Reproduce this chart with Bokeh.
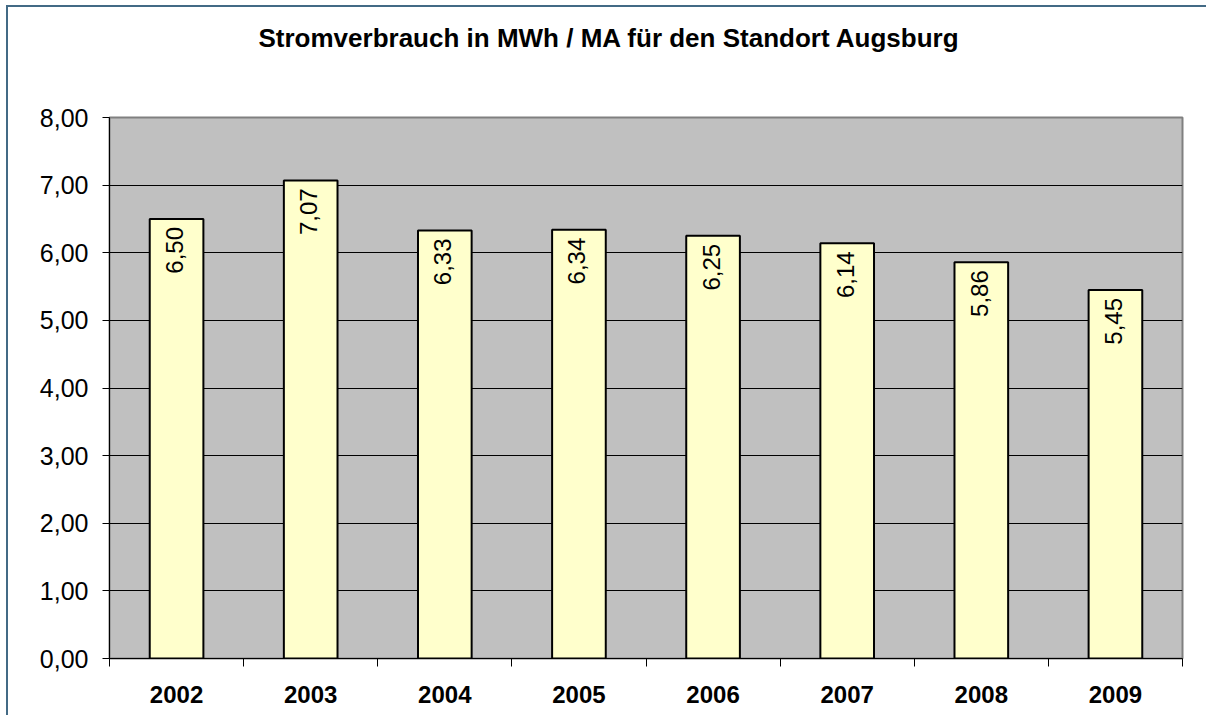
import math
from bokeh.plotting import figure
from bokeh.models import Range1d, FixedTicker, ColumnDataSource
from bokeh.core.properties import value
from bokeh.embed import file_html
from bokeh.resources import INLINE

title_text = "Stromverbrauch in MWh / MA für den Standort Augsburg"
years = ["2002", "2003", "2004", "2005", "2006", "2007", "2008", "2009"]
values = [6.50, 7.07, 6.33, 6.34, 6.25, 6.14, 5.86, 5.45]
y_ticks = [0, 1, 2, 3, 4, 5, 6, 7, 8]

FONT = "Liberation Sans"
BORDER = "#436a85"

xs = [i + 0.5 for i in range(len(years))]
labels = [f"{v:.2f}".replace(".", ",") for v in values]
src = ColumnDataSource(dict(x=xs, top=values, label=labels))

p = figure(width=1206, height=715, output_backend="svg", toolbar_location=None,
           x_range=Range1d(0, len(years)), y_range=Range1d(0, 8),
           min_border_left=109, min_border_right=24, min_border_top=117, min_border_bottom=57)

p.styles = {
    "background": (f"linear-gradient({BORDER},{BORDER}) 6px 5px / 2px 100% no-repeat, "
                   f"linear-gradient({BORDER},{BORDER}) 6px 5px / 100% 2px no-repeat, white"),
}
p.background_fill_color = "#c0c0c0"
p.border_fill_alpha = 0
p.outline_line_color = "#808080"
p.outline_line_width = 2

p.title.text = title_text
p.title.text_font = FONT
p.title.text_font_size = "26px"
p.title.text_font_style = "bold"
p.title.text_color = "black"
p.title.align = "left"
p.title.vertical_align = "top"
p.title.offset = 149
p.title.standoff = 0
p.title.padding = dict(left=0, right=0, top=0, bottom=63)

p.xgrid.grid_line_color = None
p.ygrid.grid_line_color = "black"
p.ygrid.grid_line_width = 1
p.ygrid.ticker = FixedTicker(ticks=y_ticks)

p.vbar(x="x", top="top", width=0.4, source=src, fill_color="#ffffcc",
       line_color="black", line_width=2)

p.text(x="x", y="top", text="label", source=src, angle=math.pi / 2,
       text_align="right", text_baseline="middle", y_offset=8, x_offset=-2,
       text_font=value(FONT), text_font_size="24px", text_color="black")

xa = p.xaxis[0]
xa.ticker = FixedTicker(ticks=xs, minor_ticks=list(range(len(years) + 1)))
xa.major_label_overrides = {x: y for x, y in zip(xs, years)}
xa.major_tick_out = 0
xa.major_tick_in = 0
xa.minor_tick_out = 8
xa.minor_tick_in = 0
xa.minor_tick_line_color = "black"
xa.axis_line_color = "black"
xa.major_label_text_font = FONT
xa.major_label_text_font_size = "24px"
xa.major_label_text_font_style = "bold"
xa.major_label_text_color = "black"
xa.major_label_standoff = 19

ya = p.yaxis[0]
ya.ticker = FixedTicker(ticks=y_ticks)
ya.major_label_overrides = {t: f"{t},00" for t in y_ticks}
ya.major_tick_out = 7
ya.major_tick_in = 0
ya.minor_tick_out = 0
ya.minor_tick_in = 0
ya.major_tick_line_color = "black"
ya.axis_line_color = "black"
ya.major_label_text_font = FONT
ya.major_label_text_font_size = "25px"
ya.major_label_text_color = "black"
ya.major_label_standoff = 14

open("out.html", "w").write(file_html(p, INLINE))
